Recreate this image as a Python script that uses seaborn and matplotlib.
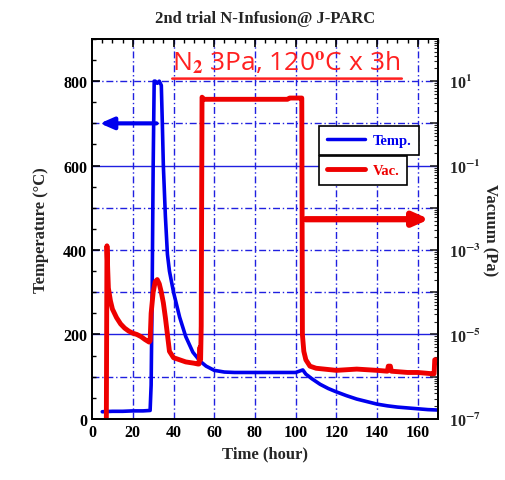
import numpy as np
import matplotlib
matplotlib.use("Agg")
import matplotlib.pyplot as plt
import matplotlib.ticker as mticker
from matplotlib.lines import Line2D
import seaborn as sns

# temperature log (left axis)
temp_t = [5, 10, 15, 20, 25, 28.5, 29, 29.5, 30, 30.5, 31, 32, 33, 34, 34.5, 35, 36, 37,
          38, 40, 43, 46, 49.5, 53, 56, 60, 65, 70, 80, 90, 100, 103.5, 105, 108, 112,
          116, 120, 125, 130, 135, 140, 145, 150, 155, 160, 165, 170]
temp_c = [17, 18, 18, 19, 19, 20, 80, 300, 600, 800, 800, 795, 800, 790, 700, 600, 480, 390,
          350, 300, 241, 195, 158, 137, 125, 115, 111, 110, 110, 110, 110, 116, 106, 95, 82,
          72, 64, 55, 47, 41, 35, 31, 28, 26, 24, 22, 21]

# vacuum log (right axis), exponent of pressure in Pa
vac_t = [7.0, 7.3, 7.7, 8, 9, 10, 12, 14, 16, 18, 20, 22, 24, 26, 28, 28.5, 29, 30, 31, 32,
         33, 34, 35, 36, 37, 38, 40, 43, 46, 50, 52, 52.5, 53, 53.3, 53.6, 54, 55, 60, 70,
         80, 90, 96, 97, 102.5, 103, 103.3, 104, 105, 107, 110, 120, 130, 140, 145, 145.5,
         146.5, 147, 155, 160, 167, 168, 168.3, 170]
vac_exp = [-7.0, -2.9, -3.5, -3.9, -4.2, -4.4, -4.6, -4.75, -4.85, -4.92, -4.97, -5.0, -5.05,
           -5.12, -5.18, -5.15, -4.5, -4.0, -3.75, -3.7, -3.8, -4.0, -4.25, -4.6, -5.0, -5.4,
           -5.55, -5.6, -5.65, -5.68, -5.7, -5.7, -5.3, -5.6, -4.8, 0.62, 0.57, 0.57, 0.57,
           0.57, 0.57, 0.57, 0.6, 0.6, 0.6, -5.0, -5.4, -5.6, -5.75, -5.8, -5.85, -5.82,
           -5.85, -5.87, -5.75, -5.75, -5.87, -5.9, -5.9, -5.93, -5.93, -5.6, -5.6]
vac_pa = 10.0 ** np.array(vac_exp)

title = "2nd trial N-Infusion@ J-PARC"
note = "N$_2$ 3Pa, 120$^{\\rm o}$C x 3h"
blue, red = "#0000ee", "#ee0000"

sns.set_style("white")
plt.rcParams["font.family"] = ["Liberation Serif", "DejaVu Serif"]
plt.rcParams["mathtext.fontset"] = "stix"
plt.rcParams["font.weight"] = "bold"

fig = plt.figure(figsize=(5.06, 4.81), dpi=100)
ax = fig.add_axes([0.182, 0.127, 0.684, 0.79])
ax2 = ax.twinx()

# grid
grid_col = "#2020e0"
for xv in range(20, 170, 20):
    ax.axvline(xv, color=grid_col, lw=1, ls=(0, (5, 2, 1, 2)), zorder=0)
for yv in range(100, 900, 100):
    ls = "-" if yv in (200, 600) else (0, (5, 2, 1, 2))
    ax.axhline(yv, color=grid_col, lw=1, ls=ls, zorder=0)

sns.lineplot(x=temp_t, y=temp_c, ax=ax, color=blue, lw=2.6, sort=False, estimator=None)
sns.lineplot(x=vac_t, y=vac_pa, ax=ax2, color=red, lw=3.5, sort=False, estimator=None)

ax.set_xlim(0, 170)
ax.set_ylim(0, 900)
ax2.set_yscale("log")
ax2.set_ylim(1e-7, 1e2)

ax.xaxis.set_major_locator(mticker.MultipleLocator(20))
ax.xaxis.set_minor_locator(mticker.MultipleLocator(5))
ax.yaxis.set_major_locator(mticker.MultipleLocator(200))
ax.yaxis.set_minor_locator(mticker.MultipleLocator(50))
ax.tick_params(which="both", direction="in", top=True, labelsize=11.5, colors="black")
ax.tick_params(which="major", length=6, width=1.2)
ax.tick_params(which="minor", length=3, width=1)

ax2.yaxis.set_major_locator(mticker.LogLocator(base=10, numticks=20))
ax2.yaxis.set_minor_locator(mticker.LogLocator(base=10, subs=np.arange(2, 10), numticks=20))
ax2.yaxis.set_minor_formatter(mticker.NullFormatter())


def fmt(v, pos):
    e = int(round(np.log10(v)))
    return f"10$^{{{e}}}$" if e % 2 else ""


ax2.yaxis.set_major_formatter(mticker.FuncFormatter(fmt))
ax2.tick_params(which="both", direction="in", labelsize=11.5, pad=8)
ax2.tick_params(which="major", length=6, width=1.2)
ax2.tick_params(which="minor", length=3, width=0.8)

for a in (ax, ax2):
    for s in a.spines.values():
        s.set_linewidth(1.3)
        s.set_color("black")

ax.set_xlabel("Time (hour)", fontsize=12, fontweight="bold")
ax.set_ylabel("Temperature (°C)", fontsize=12, fontweight="bold", labelpad=10)
ax2.set_ylabel("Vacuum (Pa)", fontsize=12, fontweight="bold", rotation=270, labelpad=12)
ax.set_title(title, fontsize=12, fontweight="bold", pad=12)

# axis arrows
ax.annotate("", xy=(2.5, 700), xytext=(33, 700),
            arrowprops=dict(arrowstyle="-|>,head_length=0.8,head_width=0.35",
                            color=blue, lw=3))
ax.annotate("", xy=(167, 473), xytext=(103.5, 473),
            arrowprops=dict(arrowstyle="-|>,head_length=0.9,head_width=0.4",
                            color=red, lw=4.5))

# condition note
ax.text(95.5, 845, note, color="#ff2020", fontsize=19, ha="center", va="center",
        family=["Open Sans", "DejaVu Sans"], fontweight="normal")
ax.annotate("", xy=(153.5, 806), xytext=(38, 806),
            arrowprops=dict(arrowstyle="-", color="#ff2020", lw=1.8))

# legend drawn as two stacked boxes
leg_kw = dict(loc="upper left", frameon=True, fancybox=False, edgecolor="black",
              framealpha=1, handlelength=2.6, fontsize=10.5, borderpad=0.55,
              handletextpad=0.5)
leg1 = ax2.legend([Line2D([], [], color=blue, lw=2.5)], ["Temp."],
                  bbox_to_anchor=(0.635, 0.79), labelcolor=[blue], **leg_kw)
leg1.get_frame().set_linewidth(1.2)
ax2.add_artist(leg1)
leg2 = ax2.legend([Line2D([], [], color=red, lw=3.5)], ["Vac."],
                  bbox_to_anchor=(0.635, 0.712), labelcolor=[red], **leg_kw)
leg2.get_frame().set_linewidth(1.2)

fig.savefig("out.png", dpi=100)
